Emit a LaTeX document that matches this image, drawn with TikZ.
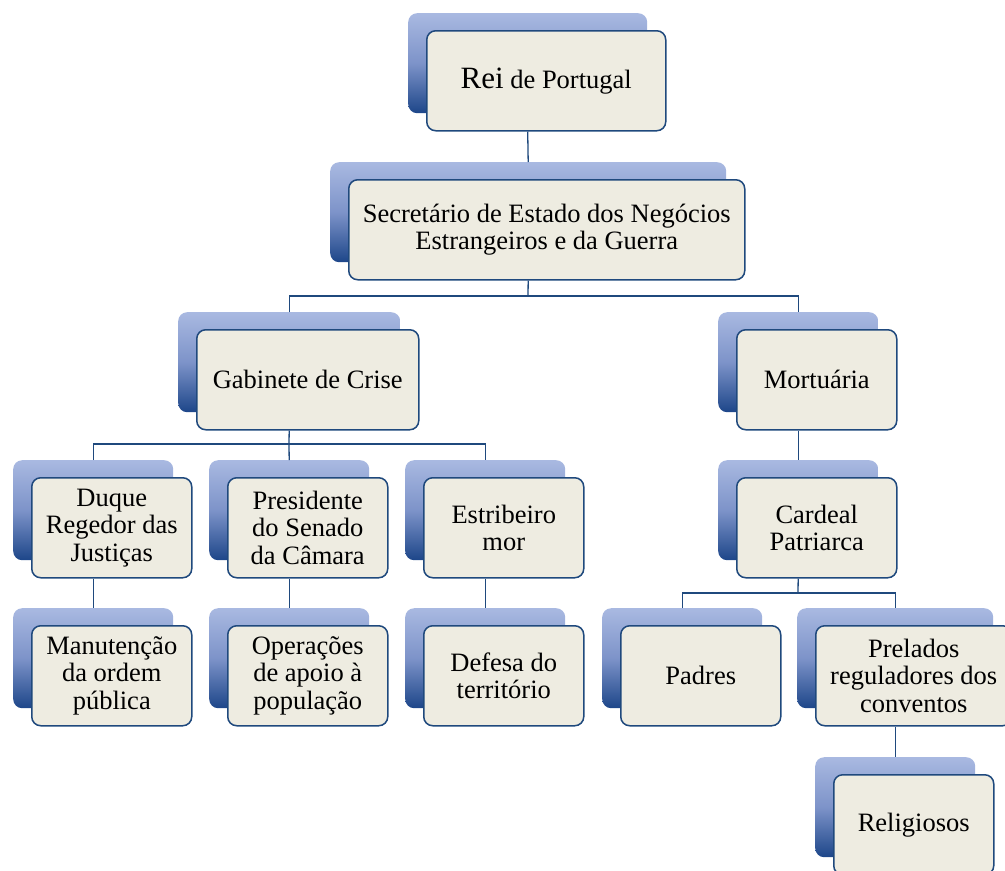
\documentclass[tikz,border=0pt]{standalone}
\usepackage{fontspec}
\setmainfont{Liberation Serif}
\usetikzlibrary{calc}
\definecolor{shTop}{HTML}{A9B9E1}
\definecolor{shMid}{HTML}{7D93C9}
\definecolor{shBot}{HTML}{1D4689}
\definecolor{boxFill}{HTML}{EEECE1}
\definecolor{boxLine}{HTML}{1F497D}
\tikzset{
  shbox/.style={rectangle, rounded corners=9pt, top color=shTop, bottom color=shBot, middle color=shMid, draw=none, inner sep=0pt, anchor=north west},
  mbox/.style={rectangle, rounded corners=9pt, fill=boxFill, draw=boxLine, line width=1.5pt, inner sep=2pt, anchor=north west, align=center, font=\fontsize{26.5}{27.5}\selectfont},
  conn/.style={draw=boxLine, line width=1.3pt}
}
\newcommand{\obox}[6]{%
  \node[shbox, minimum width=#4pt, minimum height=#5pt] (#1s) at (#2,#3) {};
  \node[mbox, minimum width=#4pt, minimum height=#5pt] (#1) at (#2+18,#3+17) {#6};
}
\begin{document}
\begin{tikzpicture}[x=1pt,y=-1pt]
\useasboundingbox (0,0) rectangle (1005,871);
\clip (0,0) rectangle (1005,871);
\obox{rei}{408}{13}{239}{100}{{\fontsize{31}{31}\selectfont Rei} de Portugal}
\obox{sec}{330}{162}{396}{100}{Secretário de Estado dos Negócios\\Estrangeiros e da Guerra}
\obox{gab}{178}{312}{222}{100}{Gabinete de Crise}
\obox{mort}{718}{312}{160}{100}{Mortuária}
\obox{duq}{13}{460}{160}{100}{Duque\\Regedor das\\Justiças}
\obox{pres}{209}{460}{160}{100}{Presidente\\do Senado\\da Câmara}
\obox{est}{405}{460}{160}{100}{Estribeiro\\mor}
\obox{card}{718}{460}{160}{100}{Cardeal\\Patriarca}
\obox{man}{13}{608}{160}{100}{Manutenção\\da ordem\\pública}
\obox{op}{209}{608}{160}{100}{Operações\\de apoio à\\população}
\obox{def}{405}{608}{160}{100}{Defesa do\\território}
\obox{pad}{602}{608}{160}{100}{Padres}
\obox{prel}{797}{608}{196}{100}{Prelados\\reguladores dos\\conventos}
\obox{rel}{815}{757}{160}{100}{Religiosos}
\coordinate (j1) at (528,296);
\coordinate (j2) at (289,444);
\coordinate (j3) at (798,593);
% connectors
\draw[conn] (rei.south -| reis.center) -- (secs.north);
\draw[conn] (sec.south -| secs.center) -- (j1);
\draw[conn] (gabs.north) |- (j1) -| (morts.north);
\draw[conn] (gab.south -| gabs.center) -- (j2);
\draw[conn] (duqs.north) |- (j2) -| (ests.north);
\draw[conn] (j2) -- (press.north);
\draw[conn] (mort.south -| morts.center) -- (cards.north);
\draw[conn] (duq.south -| duqs.center) -- (mans.north);
\draw[conn] (pres.south -| press.center) -- (ops.north);
\draw[conn] (est.south -| ests.center) -- (defs.north);
\draw[conn] (card.south -| cards.center) -- (j3);
\draw[conn] (pads.north) |- (j3) -| (prels.north);
\draw[conn] (prel.south -| prels.center) -- (rels.north);
\end{tikzpicture}
\end{document}
